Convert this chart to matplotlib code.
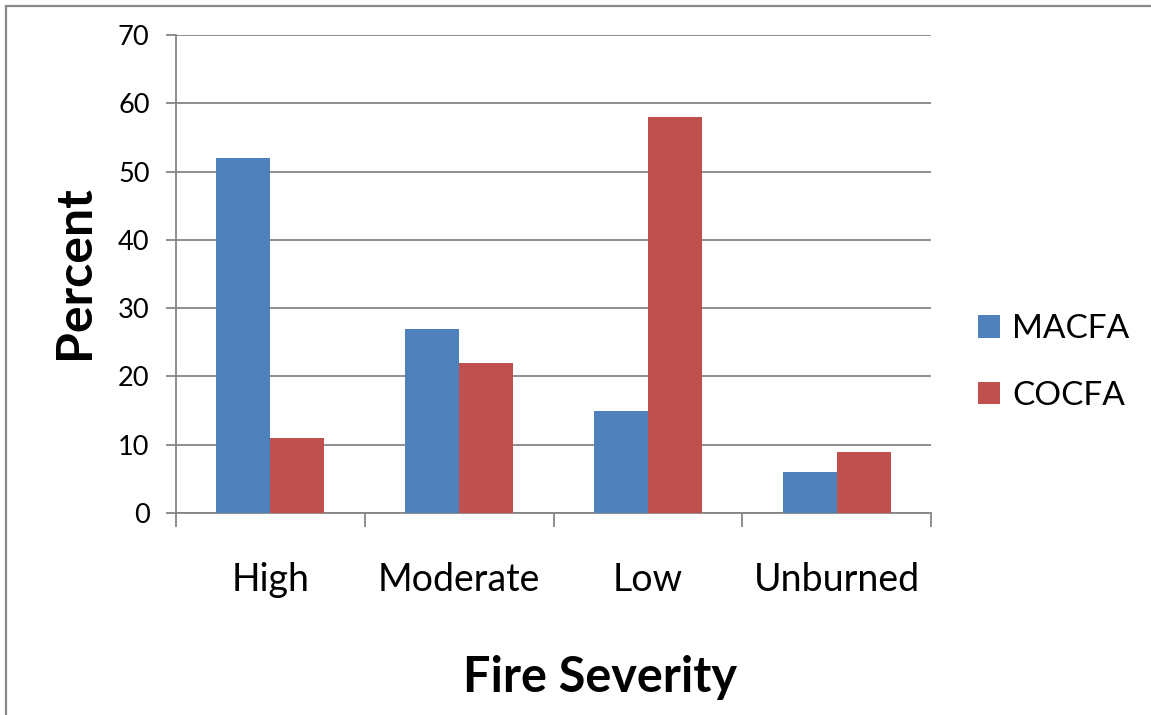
import numpy as np
import matplotlib.pyplot as plt
from matplotlib.patches import Rectangle

categories = ["High", "Moderate", "Low", "Unburned"]
macfa = [52, 27, 15, 6]
cocfa = [11, 22, 58, 9]
series_names = ["MACFA", "COCFA"]
y_ticks = [0, 10, 20, 30, 40, 50, 60, 70]

plt.rcParams['font.family'] = ['Lato', 'DejaVu Sans']

W, H = 1151, 715
fig = plt.figure(figsize=(W / 100, H / 100), dpi=100)
ax = fig.add_axes([176 / W, 1 - 513 / H, (931 - 176) / W, (513 - 35) / H])

x = np.arange(len(categories))
bw = 0.286
ax.bar(x - bw / 2, macfa, bw, color="#4F81BD", label=series_names[0], zorder=3)
ax.bar(x + bw / 2, cocfa, bw, color="#C0504D", label=series_names[1], zorder=3)

ax.set_xlim(-0.5, len(categories) - 0.5)
ax.set_ylim(0, 70)
ax.set_yticks(y_ticks)
ax.yaxis.grid(True, color="#868686", linewidth=1.3, zorder=0)
ax.tick_params(axis="y", labelsize=19.5, length=7, width=1.3, color="#868686", pad=12)

ax.set_xticks(x)
ax.set_xticklabels(categories)
ax.set_xticks(np.arange(len(categories) + 1) - 0.5, minor=True)
ax.tick_params(axis="x", which="major", length=0, labelsize=27, pad=35)
ax.tick_params(axis="x", which="minor", length=10, width=1.3, color="#868686")

for s in ["top", "right"]:
    ax.spines[s].set_visible(False)
for s in ["left", "bottom"]:
    ax.spines[s].set_color("#868686")
    ax.spines[s].set_linewidth(1.3)

ax.set_ylabel("Percent", fontsize=36, fontweight="bold", va="center")
ax.yaxis.set_label_coords((75 - 176) / 755, (513 - 272) / 478)
ax.set_xlabel("Fire Severity", fontsize=35, fontweight="bold", va="center")
ax.xaxis.set_label_coords((600 - 176) / 755, -(677 - 513) / 478)

fig.legend(loc="upper left", bbox_to_anchor=(978 / W, 1 - 314 / H), frameon=False,
           fontsize=24, handlelength=0.67, handleheight=0.67, labelspacing=1.1,
           handletextpad=0.36, borderpad=0, borderaxespad=0)

fig.patches.append(Rectangle((6 / W, -0.1), 1.2, 1 - 6 / H + 0.1, transform=fig.transFigure,
                             fill=False, edgecolor="#888888", linewidth=1.6))

fig.savefig("out.png", dpi=100)
